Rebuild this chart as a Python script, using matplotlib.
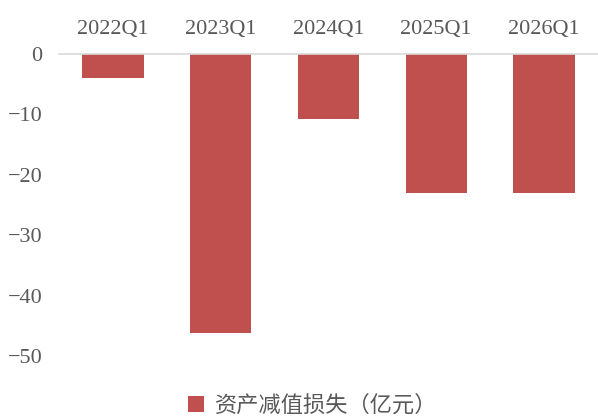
import matplotlib
matplotlib.use("Agg")
import matplotlib.pyplot as plt
from matplotlib.patches import Patch

plt.rcParams['font.family'] = ['Liberation Serif', 'Noto Sans CJK SC', 'DejaVu Sans']
plt.rcParams['axes.unicode_minus'] = True

# Asset impairment losses by quarter (100 million CNY)
quarters = ["2022Q1", "2023Q1", "2024Q1", "2025Q1", "2026Q1"]
impairment = [-4.0, -46.2, -10.8, -23.0, -23.0]
y_ticks = [0, -10, -20, -30, -40, -50]
series_name = "资产减值损失（亿元）"

bar_color = "#C0504D"
text_color = "#595959"

fig = plt.figure(figsize=(5.98, 4.18), dpi=100)
ax = fig.add_axes([0.0987, 0.1483, 0.9013, 0.7225])

x = range(len(quarters))
ax.bar(x, impairment, width=0.57, color=bar_color, zorder=2)

ax.set_xlim(-0.5, len(quarters) - 0.5)
ax.set_ylim(-50, 0)
ax.set_yticks(y_ticks)
ax.set_yticklabels([str(v) if v == 0 else f"\u2212{abs(v)}" for v in y_ticks])

ax.xaxis.tick_top()
ax.set_xticks(list(x))
ax.set_xticklabels(quarters)

for side in ("left", "right", "bottom"):
    ax.spines[side].set_visible(False)
ax.spines["top"].set_color("#D9D9D9")
ax.spines["top"].set_linewidth(1.2)
ax.spines["top"].set_zorder(3)

ax.tick_params(axis="x", length=0, pad=11, labelsize=16, labelcolor=text_color)
ax.tick_params(axis="y", length=0, pad=12, labelsize=16, labelcolor=text_color)

fig.legend(handles=[Patch(facecolor=bar_color, label=series_name)],
           loc="center", bbox_to_anchor=(313 / 598, 1 - 406 / 418),
           frameon=False, fontsize=16, labelcolor=text_color,
           handlelength=0.7, handleheight=0.7, handletextpad=0.5)

fig.savefig("out.png", dpi=100)
